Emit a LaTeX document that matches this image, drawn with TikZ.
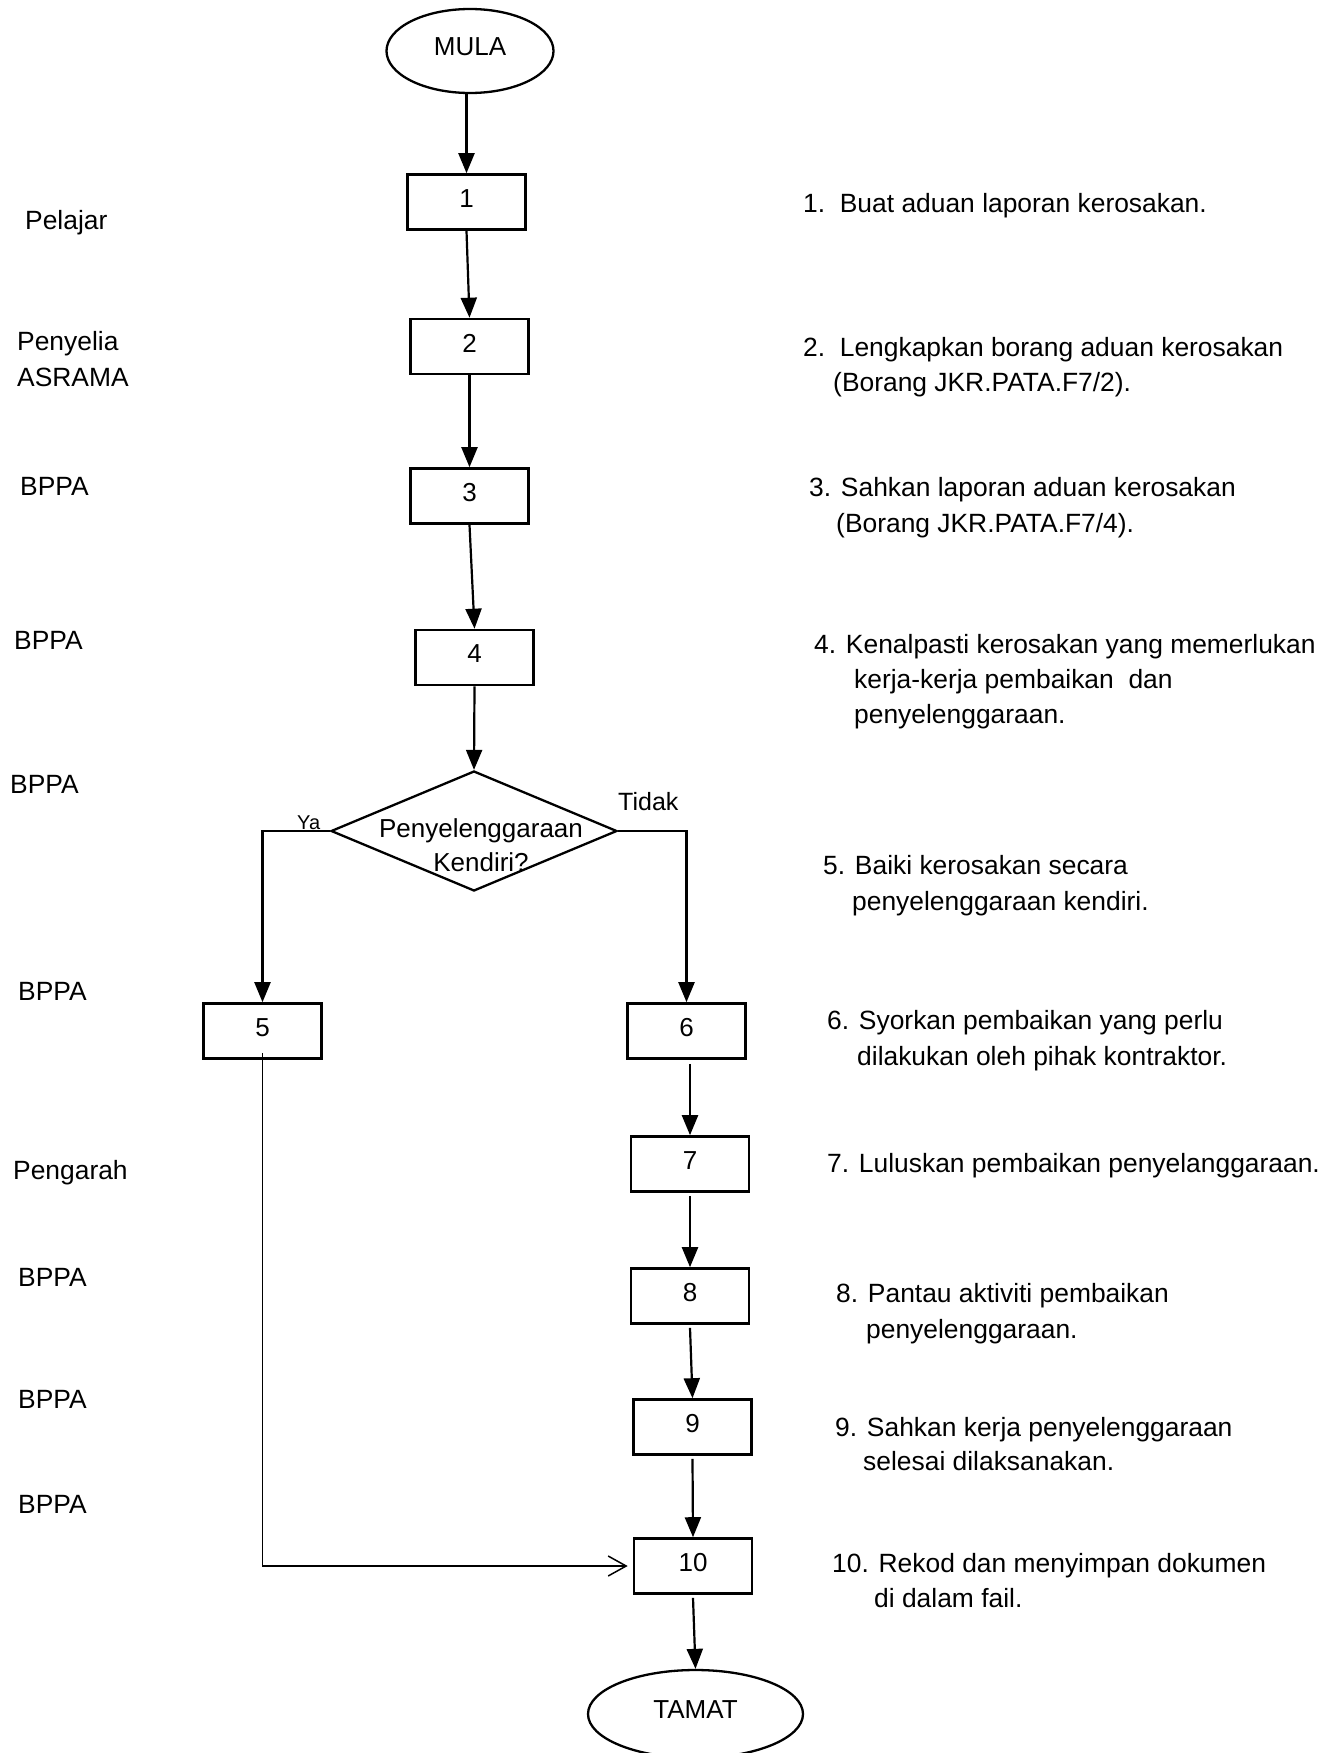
\documentclass[tikz,border=0pt]{standalone}
\usepackage{fontspec}
\setmainfont{Liberation Sans}
\usetikzlibrary{shapes.geometric,arrows.meta,calc}
\begin{document}
\begin{tikzpicture}[x=1pt,y=-1pt,
  box/.style={draw, line width=2.6pt, minimum width=118pt, minimum height=55pt, inner sep=0pt, text depth=7pt, font=\fontsize{26}{31}\selectfont},
  term/.style={draw, ellipse, line width=2.3pt, inner sep=0pt, text depth=8pt, font=\fontsize{26}{31}\selectfont},
  arr/.style={line width=2.2pt, -{Triangle[length=20pt,width=16pt]}},
  thinarr/.style={line width=1.5pt, -{Straight Barb[length=18pt,width=20pt,line width=1.5pt]}},
  side/.style={anchor=base west, inner sep=0pt, font=\fontsize{26.4}{31}\selectfont},
  role/.style={anchor=base west, inner sep=0pt, font=\fontsize{26.4}{31}\selectfont},
  dtext/.style={anchor=base, inner sep=0pt, font=\fontsize{26}{31}\selectfont}]
\useasboundingbox (0,0) rectangle (1338,1753);
\fill[white] (0,0) rectangle (1338,1753);

% terminals
\node[term, minimum width=167pt, minimum height=84pt] (mula) at (470,51) {MULA};
\node[term, minimum width=215pt, minimum height=88pt] (tamat) at (695.5,1714) {TAMAT};

% boxes
\node[box] (b1) at (466.5,202) {1};
\node[box] (b2) at (469.5,346.5) {2};
\node[box] (b3) at (469.5,496) {3};
\node[box] (b4) at (474.5,657.5) {4};
\node[box] (b5) at (262.5,1031) {5};
\node[box] (b6) at (686.5,1031) {6};
\node[box] (b7) at (690,1164) {7};
\node[box] (b8) at (690,1296) {8};
\node[box] (b9) at (692.5,1427) {9};
\node[box] (b10) at (693,1566) {10};

% decision
\node[draw, diamond, line width=2.3pt, minimum width=286pt, minimum height=120pt, inner sep=0pt] (d) at (474,831) {};
\node[dtext] (dt1) at (481,837) {Penyelenggaraan};
\node[dtext] (dt2) at (481,871) {Kendiri?};
\node[anchor=base west, inner sep=0pt, font=\fontsize{20}{24}\selectfont] (ya) at (297,829) {Ya};
\node[anchor=base west, inner sep=0pt, font=\fontsize{25}{30}\selectfont] (tidak) at (618,810) {Tidak};

% connectors
\draw[arr] (mula.south -| b1.north) -- (b1.north);
\draw[arr] (b1.south) -- (b2.north);
\draw[arr] (b2.south) -- (b3.north);
\draw[arr] (b3.south) -- (b4.north);
\draw[arr] (b4.south) -- (d.north);
\draw[arr] (d.west) -| (b5.north);
\draw[arr] (d.east) -| (b6.north);
\draw[arr] ($(b6.south -| b7.north)+(0,4)$) -- (b7.north);
\draw[arr] ($(b7.south)+(0,3)$) -- (b8.north);
\draw[arr] ($(b8.south)+(0,3)$) -- (b9.north);
\draw[arr] ($(b9.south)+(0,3)$) -- (b10.north);
\draw[arr] ($(b10.south)+(0,3)$) -- (tamat.north);
\draw[thinarr] ($(b5.south)+(0,-7)$) |- ($(b10.west)+(-5,0)$);

% roles
\node[role] (r1) at (25,229) {Pelajar};
\node[role] (r2a) at (17,350) {Penyelia};
\node[role] (r2b) at (17,386) {ASRAMA};
\node[role] (r3) at (20,495) {BPPA};
\node[role] (r4) at (14,649) {BPPA};
\node[role] (r5) at (10,793) {BPPA};
\node[role] (r6) at (18,1000) {BPPA};
\node[role] (r7) at (13,1179) {Pengarah};
\node[role] (r8) at (18,1286) {BPPA};
\node[role] (r9) at (18,1408) {BPPA};
\node[role] (r10) at (18,1513) {BPPA};

% descriptions
\node[side] (t1) at (803,212) {1.\ \ Buat aduan laporan kerosakan.};
\node[side] (t2a) at (803,356) {2.\ \ Lengkapkan borang aduan kerosakan};
\node[side] (t2b) at (833,391) {(Borang JKR.PATA.F7/2).};
\node[side] (t3a) at (809,496) {3. Sahkan laporan aduan kerosakan};
\node[side] (t3b) at (836,532) {(Borang JKR.PATA.F7/4).};
\node[side] (t4a) at (814,653) {4. Kenalpasti kerosakan yang memerlukan};
\node[side] (t4b) at (854,688) {kerja-kerja pembaikan\ \ dan};
\node[side] (t4c) at (854,723) {penyelenggaraan.};
\node[side] (t5a) at (823,874) {5. Baiki kerosakan secara};
\node[side] (t5b) at (852,910) {penyelenggaraan kendiri.};
\node[side] (t6a) at (827,1029) {6. Syorkan pembaikan yang perlu};
\node[side] (t6b) at (857,1065) {dilakukan oleh pihak kontraktor.};
\node[side] (t7) at (827,1172) {7. Luluskan pembaikan penyelanggaraan.};
\node[side] (t8a) at (836,1302) {8. Pantau aktiviti pembaikan};
\node[side] (t8b) at (866,1338) {penyelenggaraan.};
\node[side] (t9a) at (835,1436) {9. Sahkan kerja penyelenggaraan};
\node[side] (t9b) at (863,1470) {selesai dilaksanakan.};
\node[side] (t10a) at (832,1572) {10. Rekod dan menyimpan dokumen};
\node[side] (t10b) at (874,1607) {di dalam fail.};
\end{tikzpicture}
\end{document}
